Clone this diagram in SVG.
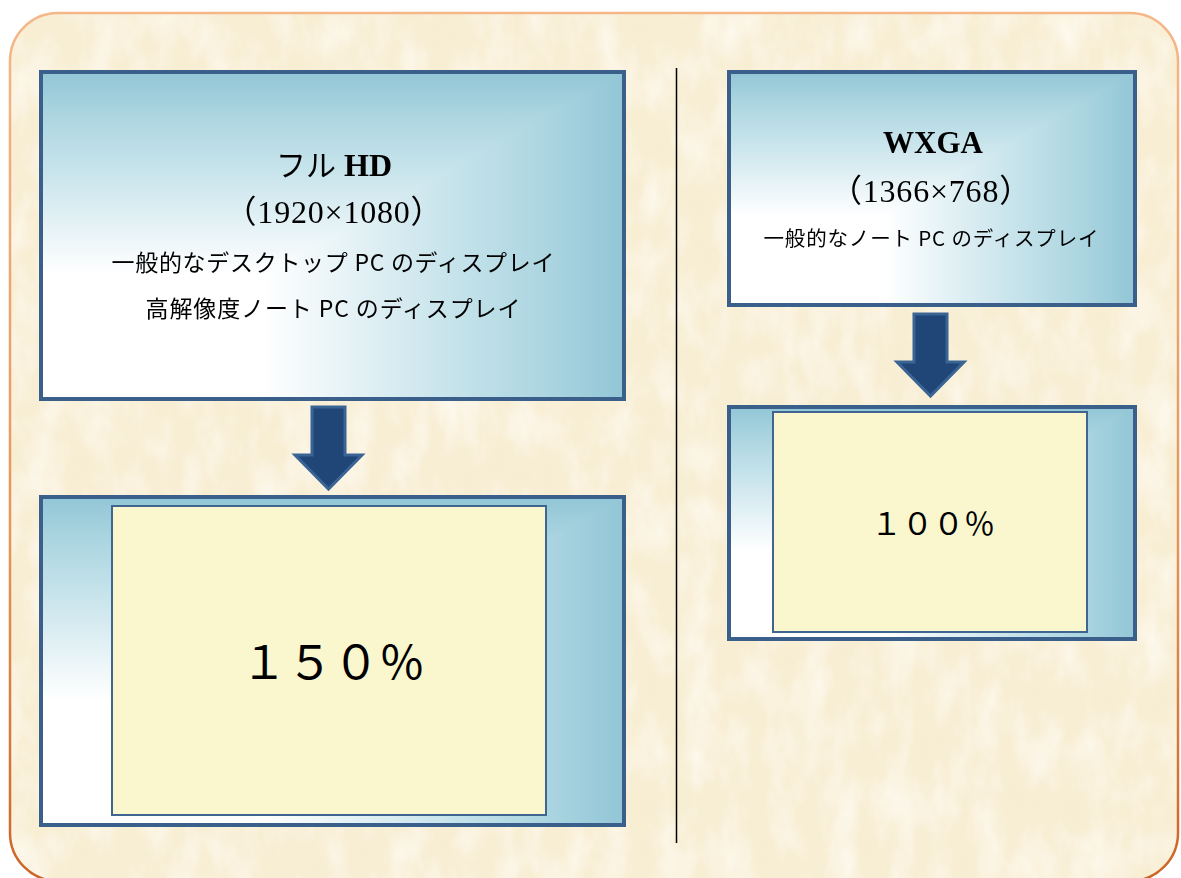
<svg xmlns="http://www.w3.org/2000/svg" width="1181" height="878" viewBox="0 0 1181 878">
  <defs>
    <style>
      .frame { stroke: #3a5f8b; stroke-width: 4; }
      .screen { fill: #faf6cd; stroke: #3f6590; stroke-width: 2; }
      .arrow { fill: #1f4677; stroke: #3a6494; stroke-width: 3; stroke-linejoin: miter; }
      .dark { mix-blend-mode: darken; }
      .title { font-family: "Liberation Serif", "Noto Sans CJK JP", serif; fill: #000; text-anchor: middle; }
      .jp { font-family: "Noto Sans CJK JP", "Liberation Sans", sans-serif; fill: #000; text-anchor: middle; }
    </style>
    <linearGradient id="gh" x1="0" y1="0" x2="1" y2="0">
      <stop offset="0" stop-color="#ffffff"/>
      <stop offset="0.38" stop-color="#ffffff"/>
      <stop offset="0.72" stop-color="#c4e2ea"/>
      <stop offset="0.86" stop-color="#add6e1"/>
      <stop offset="1" stop-color="#92c6d6"/>
    </linearGradient>
    <linearGradient id="gv" x1="0" y1="1" x2="0" y2="0">
      <stop offset="0" stop-color="#ffffff"/>
      <stop offset="0.38" stop-color="#ffffff"/>
      <stop offset="0.72" stop-color="#c4e2ea"/>
      <stop offset="0.86" stop-color="#add6e1"/>
      <stop offset="1" stop-color="#92c6d6"/>
    </linearGradient>
    <linearGradient id="border" x1="0" y1="0" x2="0" y2="1">
      <stop offset="0" stop-color="#f5b788"/>
      <stop offset="0.6" stop-color="#e59658"/>
      <stop offset="1" stop-color="#cc6425"/>
    </linearGradient>
    <clipPath id="paper">
      <rect x="10" y="13" width="1168" height="868" rx="48" ry="48"/>
    </clipPath>
    <filter id="tex" x="0" y="0" width="1" height="1" filterUnits="objectBoundingBox">
      <feTurbulence type="fractalNoise" baseFrequency="0.035 0.018" numOctaves="4" seed="11" result="n"/>
      <feColorMatrix in="n" type="matrix" values="0 0 0 0 1  0 0 0 0 0.975  0 0 0 0 0.925  1.4 0 0 0 -0.55" result="light"/>
      <feColorMatrix in="n" type="matrix" values="0 0 0 0 0.92  0 0 0 0 0.84  0 0 0 0 0.66  -1.2 0 0 0 0.45" result="darkspots"/>
      <feMerge>
        <feMergeNode in="darkspots"/>
        <feMergeNode in="light"/>
      </feMerge>
    </filter>
  </defs>

  <rect x="0" y="0" width="1181" height="878" fill="#ffffff"/>
  <g id="background">
    <rect x="10" y="13" width="1168" height="868" rx="48" ry="48" fill="#f8eed4"/>
    <g clip-path="url(#paper)">
      <rect x="10" y="13" width="1168" height="868" filter="url(#tex)"/>
    </g>
    <rect x="10" y="13" width="1168" height="868" rx="48" ry="48" fill="none" stroke="url(#border)" stroke-width="2.5"/>
  </g>

  <g id="divider">
    <line x1="676.5" y1="68" x2="676.5" y2="843" stroke="#000" stroke-width="1.5"/>
  </g>

  <g id="fullhd">
    <rect x="41" y="72" width="583" height="327" fill="url(#gh)"/>
    <rect class="dark" x="41" y="72" width="583" height="327" fill="url(#gv)"/>
    <rect class="frame" x="41" y="72" width="583" height="327" fill="none"/>
    <text class="title" x="334" y="176" font-size="32"><tspan font-family="Noto Sans CJK JP, sans-serif" font-weight="400" font-size="30">フル</tspan><tspan font-weight="bold"> HD</tspan></text>
    <text class="title" x="334" y="223" font-size="32" letter-spacing="0.8">（1920×1080）</text>
    <text class="jp" x="333" y="271" font-size="23" textLength="443" lengthAdjust="spacing">一般的なデスクトップ PC のディスプレイ</text>
    <text class="jp" x="333" y="317" font-size="23" textLength="375" lengthAdjust="spacing">高解像度ノート PC のディスプレイ</text>
  </g>

  <g id="scale150">
    <rect x="41" y="497" width="583" height="328" fill="url(#gh)"/>
    <rect class="dark" x="41" y="497" width="583" height="328" fill="url(#gv)"/>
    <rect class="frame" x="41" y="497" width="583" height="328" fill="none"/>
    <rect class="screen" x="112" y="506" width="434" height="309"/>
    <text class="jp" x="333" y="679" font-size="46" font-weight="400">１５０％</text>
  </g>

  <g id="wxga">
    <rect x="729" y="72" width="406" height="233" fill="url(#gh)"/>
    <rect class="dark" x="729" y="72" width="406" height="233" fill="url(#gv)"/>
    <rect class="frame" x="729" y="72" width="406" height="233" fill="none"/>
    <text class="title" x="933" y="153" font-size="31" font-weight="bold">WXGA</text>
    <text class="title" x="931" y="202" font-size="32" letter-spacing="0.8">（1366×768）</text>
    <text class="jp" x="931" y="246" font-size="20.5" textLength="335" lengthAdjust="spacing">一般的なノート PC のディスプレイ</text>
  </g>

  <g id="scale100">
    <rect x="729" y="407" width="406" height="232" fill="url(#gh)"/>
    <rect class="dark" x="729" y="407" width="406" height="232" fill="url(#gv)"/>
    <rect class="frame" x="729" y="407" width="406" height="232" fill="none"/>
    <rect class="screen" x="773" y="412" width="314" height="220"/>
    <text class="jp" x="933" y="535" font-size="31" font-weight="400">１００％</text>
  </g>

  <g id="connectors">
    <path class="arrow" d="M312,407 H345 V455 H362 L328.5,489 L295,455 H312 Z"/>
    <path class="arrow" d="M914,314 H947 V362 H964 L930.5,396 L897,362 H914 Z"/>
  </g>
</svg>
